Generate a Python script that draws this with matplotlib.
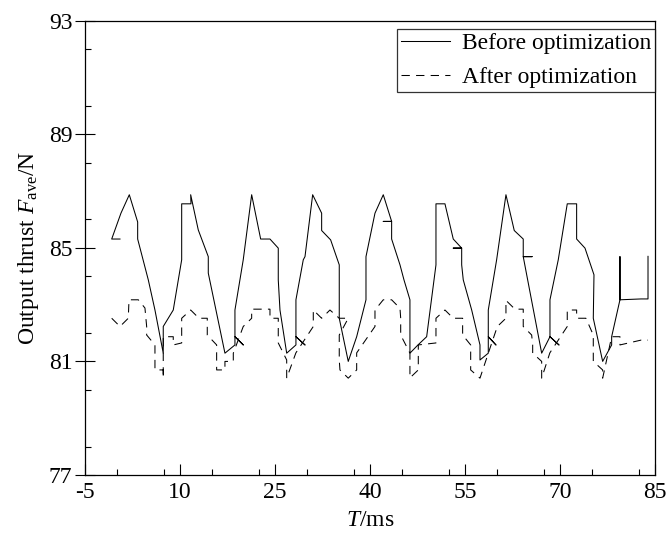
import numpy as np
import matplotlib.pyplot as plt
from matplotlib.ticker import MultipleLocator

plt.rcParams['font.family'] = ['Liberation Serif', 'DejaVu Serif']
plt.rcParams['mathtext.fontset'] = 'custom'
plt.rcParams['mathtext.rm'] = 'Liberation Serif'
plt.rcParams['mathtext.it'] = 'Liberation Serif:italic'
plt.rcParams['axes.unicode_minus'] = False

# 优化前 平均推力 (x: ms, y: N)
before_t = [0.53, -0.78, 0.68, 2.0, 3.32, 3.32, 5.0, 6.05, 7.36, 7.36, 8.94, 10.27,
            10.27, 11.74, 11.69, 12.89, 14.47, 14.47, 17.1, 18.68, 18.68, 19.99, 18.68,
            18.68, 19.99, 21.32, 22.74, 24.21, 25.52, 25.52, 25.79, 26.85, 28.31, 28.31,
            29.74, 28.31, 28.31, 29.47, 29.74, 30.95, 32.37, 32.37, 33.79, 35.15, 35.15,
            36.57, 37.9, 39.37, 39.37, 40.79, 42.1, 43.42, 42.1, 43.42, 43.42, 44.74,
            45.37, 46.31, 46.31, 47.58, 48.95, 50.42, 50.42, 51.84, 53.15, 54.48, 53.15,
            54.48, 54.48, 54.73, 56.06, 57.37, 57.37, 58.68, 58.68, 59.89, 58.68, 58.68,
            60.0, 61.47, 62.78, 64.2, 64.2, 65.6, 64.2, 64.9, 67.11, 68.42, 69.84, 68.42,
            68.42, 69.73, 71.15, 72.63, 72.63, 73.95, 75.37, 75.26, 76.74, 78.16, 78.16,
            79.47, 79.47, 79.47, 82.8, 83.9, 83.9]
before_f = [85.31, 85.31, 86.22, 86.87, 85.91, 85.31, 83.87, 82.81, 81.29, 82.23, 82.81, 84.58,
            86.55, 86.55, 86.87, 85.63, 84.69, 84.11, 81.29, 81.58, 81.87, 81.58, 81.87,
            82.81, 84.58, 86.87, 85.31, 85.31, 84.99, 83.87, 82.81, 81.29, 81.58, 81.87,
            81.58, 81.87, 83.17, 84.58, 84.69, 86.87, 86.22, 85.61, 85.28, 84.4, 82.52,
            81.0, 81.87, 83.17, 84.69, 86.22, 86.87, 85.93, 85.93, 85.93, 85.31, 84.4,
            83.87, 83.17, 81.29, 81.58, 81.87, 84.4, 86.55, 86.55, 85.31, 84.99, 84.99,
            84.99, 84.4, 83.87, 82.81, 81.58, 81.05, 81.29, 81.87, 81.58, 81.87, 82.81,
            84.58, 86.87, 85.61, 85.31, 84.69, 84.69, 84.69, 83.87, 81.29, 81.87, 81.58, 81.87,
            83.17, 84.58, 86.55, 86.55, 85.31, 84.99, 84.05, 82.52, 81.0, 81.58, 81.87,
            83.17, 84.69, 83.17, 83.2, 83.2, 84.7]

# 优化后 平均推力
after_t = [-0.78, 0.53, 1.84, 1.95, 3.42, 4.47, 4.74, 4.74, 6.05, 6.05, 7.36, 7.36,
           7.36, 8.94, 8.94, 10.27, 10.27, 11.69, 13.0, 14.31, 14.31, 15.79, 15.79, 17.1,
           17.1, 18.42, 18.42, 19.99, 21.32, 21.32, 24.21, 24.21, 25.52, 25.52, 26.85,
           26.85, 28.3, 31.05, 31.05, 32.37, 33.68, 35.15, 36.57, 35.15, 35.15, 35.26,
           36.57, 37.9, 37.9, 40.79, 40.79, 42.1, 43.42, 44.74, 44.85, 44.85, 46.31,
           46.31, 47.63, 47.63, 47.63, 50.42, 50.42, 51.84, 53.15, 54.63, 54.63, 55.9,
           55.9, 57.37, 58.7, 60.11, 61.47, 61.47, 62.89, 64.2, 64.2, 64.2, 65.53, 65.69,
           65.69, 67.11, 67.11, 68.4, 71.15, 71.15, 72.63, 72.63, 74.1, 75.26, 75.26,
           75.26, 76.74, 76.74, 78.16, 79.47, 79.47, 82.8, 83.9]
after_f = [82.52, 82.23, 82.52, 83.17, 83.17, 82.88, 82.23, 81.93, 81.58, 80.7, 80.7, 80.41,
           81.87, 81.87, 81.58, 81.65, 82.52, 82.81, 82.52, 82.52, 81.93, 81.58, 80.7, 80.7,
           81.0, 81.0, 81.29, 82.23, 82.52, 82.84, 82.84, 82.52, 82.52, 81.65, 81.05,
           80.41, 81.3, 82.23, 82.81, 82.52, 82.81, 82.52, 82.52, 81.93, 81.05, 80.7,
           80.41, 80.7, 81.3, 82.23, 82.81, 83.17, 83.17, 82.87, 82.52, 81.93, 81.29,
           80.42, 80.7, 81.29, 81.58, 81.65, 82.52, 82.81, 82.52, 82.52, 81.93, 81.58,
           80.7, 80.41, 81.3, 82.23, 82.52, 83.15, 82.84, 82.84, 82.52, 82.23, 81.93, 81.58,
           81.29, 81.0, 80.41, 81.3, 82.23, 82.81, 82.81, 82.52, 82.52, 81.93, 81.64,
           81.0, 80.7, 80.41, 81.87, 81.87, 81.58, 81.75, 81.75]

fig = plt.figure(figsize=(6.68, 5.40), dpi=100)
ax = fig.add_axes([0.1272, 0.1204, 0.8533, 0.8413])

ax.plot(before_t, before_f, color='black', linewidth=0.75, linestyle='-',
        label='Before optimization')
ax.plot(after_t, after_f, color='black', linewidth=0.75, linestyle=(0, (8, 6)),
        label='After optimization')

ax.set_xlim(-5, 85)
ax.set_ylim(77, 93)
ax.set_xticks([-5, 10, 25, 40, 55, 70, 85])
ax.set_yticks([77, 81, 85, 89, 93])
ax.xaxis.set_minor_locator(MultipleLocator(7.5))
ax.yaxis.set_minor_locator(MultipleLocator(2))
ax.tick_params(axis='x', which='major', direction='in', length=8, width=0.8,
               labelsize=17, pad=5)
ax.tick_params(axis='x', which='minor', direction='in', length=4, width=0.8)
ax.tick_params(axis='y', which='major', direction='inout', length=14, width=0.8,
               labelsize=17, pad=2)
ax.tick_params(axis='y', which='minor', direction='in', length=4, width=0.8)
for s in ax.spines.values():
    s.set_linewidth(0.9)

ax.set_xlabel('$T$/ms', fontsize=17, labelpad=5)
ax.set_ylabel('Output thrust $F_{\\mathrm{ave}}$/N', fontsize=17, labelpad=6)

leg = ax.legend(loc='upper right', bbox_to_anchor=(1.0, 0.982), fontsize=17,
                frameon=True, fancybox=False, borderaxespad=0, handlelength=2.1,
                handletextpad=0.5, borderpad=0.15, labelspacing=0.55)
leg.get_frame().set_edgecolor('black')
leg.get_frame().set_linewidth(0.9)

fig.savefig('out.png', dpi=100)
